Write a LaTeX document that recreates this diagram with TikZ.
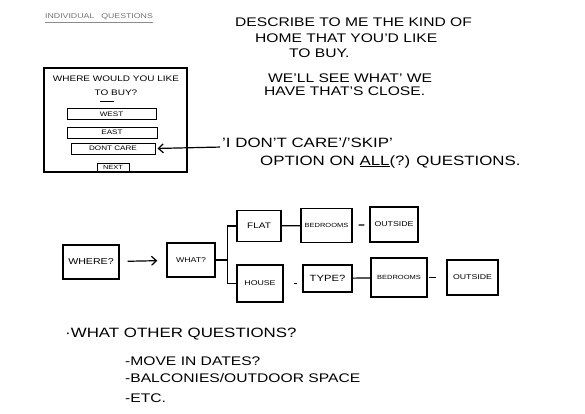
\documentclass[tikz,border=0pt]{standalone}
\usepackage{fontspec}
\setmainfont{Liberation Sans}[FakeStretch=1.25]
\usetikzlibrary{positioning, calc, arrows.meta}
\tikzstyle{Box} = [draw, line width=1.3pt, inner sep=0pt,
font=\fontsize{7}{8}\selectfont]
\tikzstyle{Button} = [draw, line width=1pt, inner sep=0pt,
minimum height=11pt, font=\fontsize{6.5}{7}\selectfont]
\tikzstyle{Note} = [anchor=base west, inner sep=0pt,
font=\fontsize{12.5}{14}\selectfont]
\tikzstyle{Arrow} = [line width=1.2pt,
-{Straight Barb[length=5pt, width=9pt]}]
\tikzstyle{Link} = [line width=1.2pt]

\begin{document}
\begin{tikzpicture}[x=1pt, y=-1pt]
    \useasboundingbox (0,0) rectangle (585,413);

    \node [Note, font=\fontsize{7}{8}\selectfont, text=black!55] (heading) at (45,18) {INDIVIDUAL\quad QUESTIONS};
    \draw [black!45, line width=0.5pt] ([yshift=-3pt]heading.south west) -- ([yshift=-3pt]heading.south east);

    \node [Note] (desc1) at (235,26) {DESCRIBE TO ME THE KIND OF};
    \node [Note] (desc2) at (255,42) {HOME THAT YOU'D LIKE};
    \node [Note] (desc3) at (289,57) {TO BUY.};
    \node [Note] (desc4) at (268,82) {WE'LL SEE WHAT' WE};
    \node [Note] (desc5) at (264,95) {HAVE THAT'S CLOSE.};

    % the form
    \node [draw, line width=1.2pt, minimum width=143pt, minimum height=104pt] (form) at (115.5,120) {};
    \node [font=\fontsize{8}{14}\selectfont, align=center, inner sep=0pt] (formq) at (116,86) {WHERE WOULD YOU LIKE\\TO BUY?};
    \draw [line width=1pt] ([shift={(-16pt,-5pt)}]formq.south) -- ([shift={(-2pt,-5pt)}]formq.south);
    \node [Button, minimum width=89pt] (west) at (111.5,114) {WEST};
    \node [Button, minimum width=90pt] (east) at (112,132.5) {EAST};
    \node [Button, minimum width=84pt] (dontcare) at (113,148.5) {DONT CARE};
    \node [Button, minimum width=32pt, minimum height=8pt, font=\fontsize{6}{7}\selectfont] (next) at (113,167) {NEXT};

    \node [Note, font=\fontsize{13.5}{15}\selectfont] (skip) at (222,147) {'I DON'T CARE'/'SKIP'};
    \node [Note, font=\fontsize{13.5}{15}\selectfont] (skip2) at (260,165) {OPTION ON \underline{ALL}(?) QUESTIONS.};
    \draw [Arrow, shorten <=2pt, shorten >=2pt] (skip.base west) -- (dontcare.east);

    % flow of questions
    \node [Box, minimum width=56pt, minimum height=34pt, font=\fontsize{8.5}{9}\selectfont] (where) at (91,262) {WHERE?};
    \node [Box, minimum width=48pt, minimum height=34pt] (what) at (191,260) {WHAT?};
    \node [Box, minimum width=44pt, minimum height=31pt, font=\fontsize{8}{9}\selectfont] (flat) at (259,226) {FLAT};
    \node [Box, minimum width=46pt, minimum height=37pt] (house) at (260,283.5) {HOUSE};
    \node [Box, minimum width=51pt, minimum height=34pt, font=\fontsize{6}{7}\selectfont] (bed1) at (326.5,225.5) {BEDROOMS};
    \node [Box, minimum width=48pt, minimum height=35pt] (out1) at (394,224.5) {OUTSIDE};
    \node [Box, minimum width=49pt, minimum height=27pt, font=\fontsize{9}{10}\selectfont] (type) at (327.5,278.5) {TYPE?};
    \node [Box, minimum width=56pt, minimum height=39pt, font=\fontsize{6}{7}\selectfont] (bed2) at (399,277.5) {BEDROOMS};
    \node [Box, minimum width=51pt, minimum height=35pt] (out2) at (472.5,277.5) {OUTSIDE};

    \draw [Arrow, shorten <=8pt, shorten >=9pt] (where) -- (what);
    \draw [Link] (what.east) -- ++(12,0) |- (flat.west);
    \draw [Link] (what.east) -- ++(12,0) |- (house.west);
    \draw [Link] (flat) -- (bed1);
    \draw [Link, shorten <=6pt, shorten >=5pt] (bed1) -- (out1);
    \draw [Link, shorten <=10pt, shorten >=5pt] (house.east) -- (type.west |- house.east);
    \draw [Link] (type) -- (bed2);
    \draw [Link, shorten <=1pt, shorten >=10pt] (bed2) -- (out2);

    \node [Note, font=\fontsize{13.5}{15}\selectfont] (more) at (65,337) {·WHAT OTHER QUESTIONS?};
    \node [Note] (more1) at (125,365) {-MOVE IN DATES?};
    \node [Note] (more2) at (125,382) {-BALCONIES/OUTDOOR SPACE};
    \node [Note] (more3) at (125,402) {-ETC.};
\end{tikzpicture}
\end{document}
